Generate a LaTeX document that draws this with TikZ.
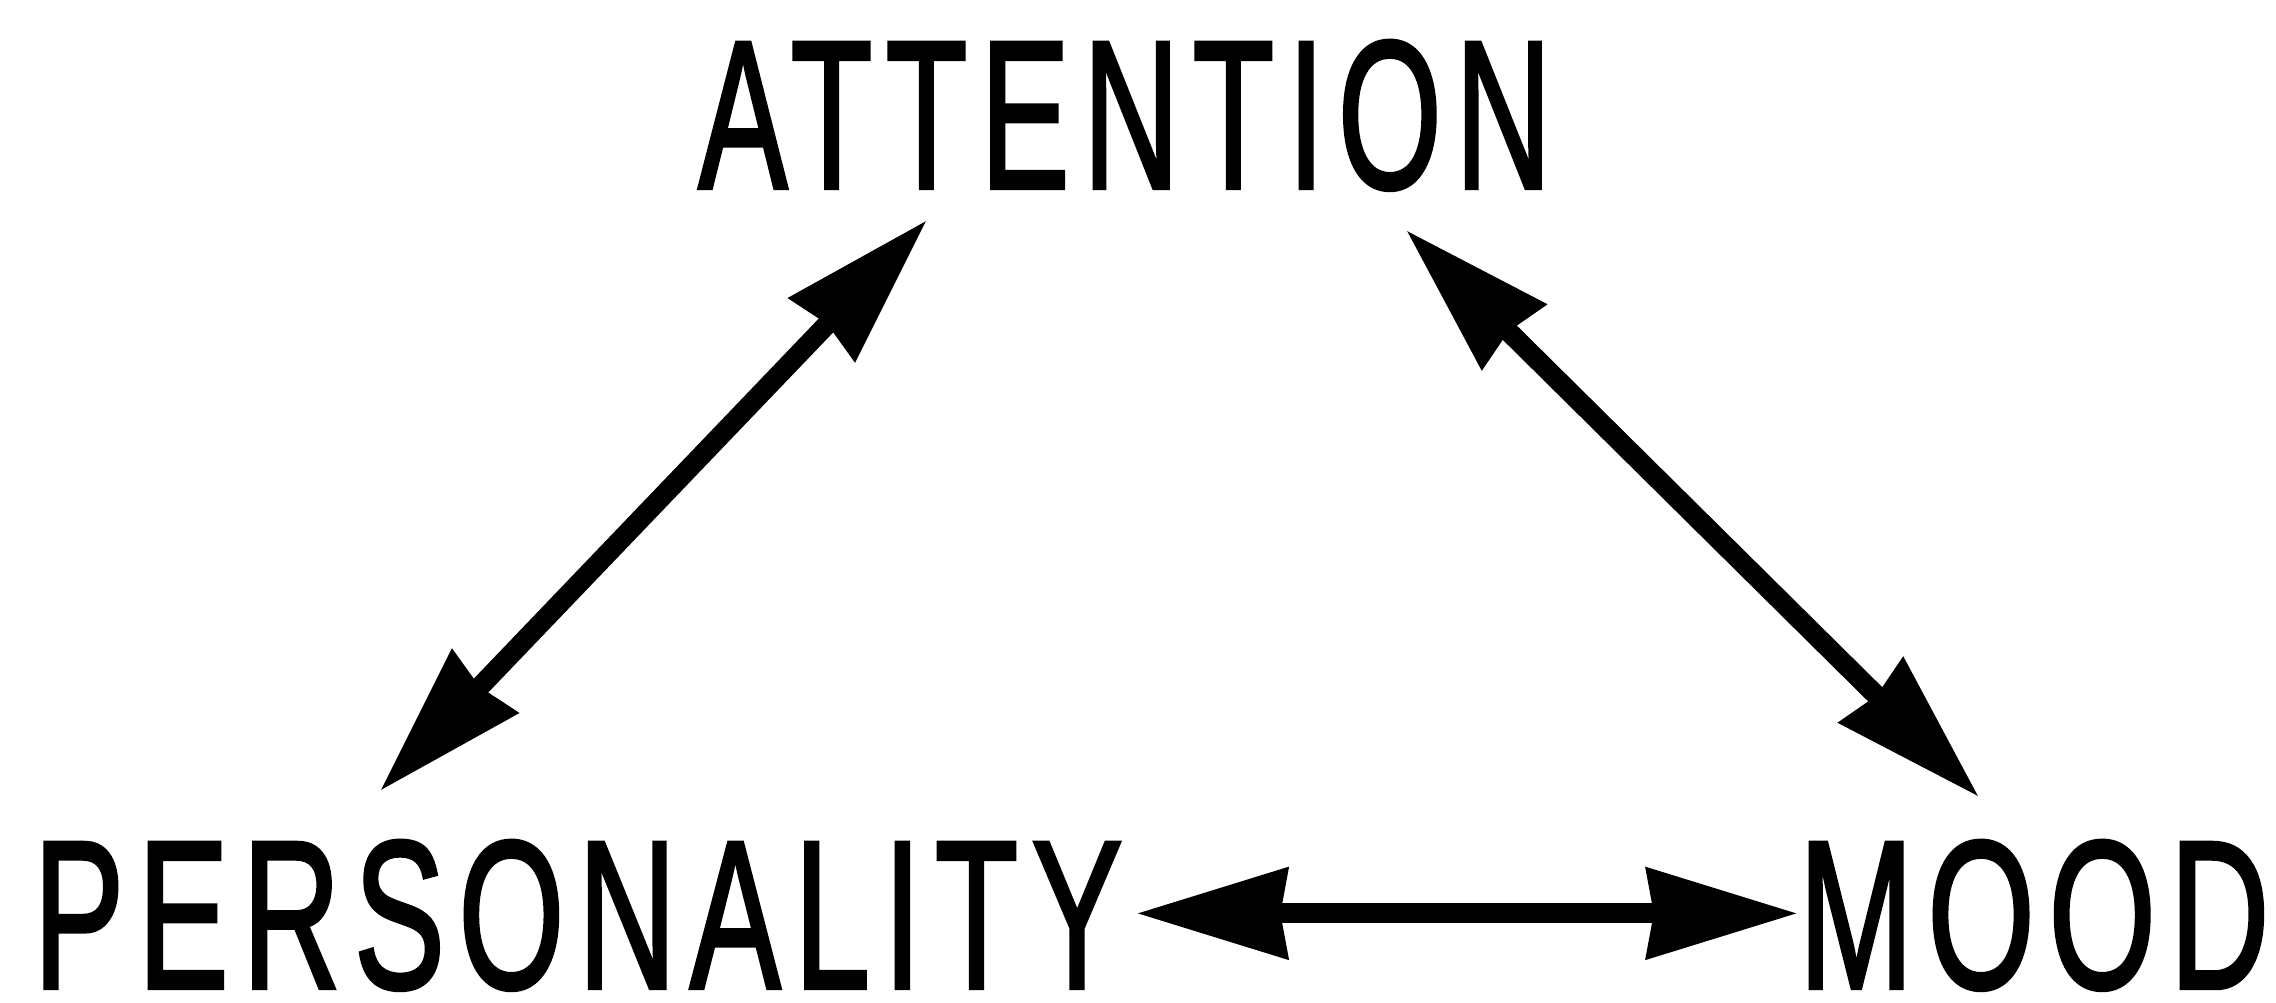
\documentclass[tikz,border=0pt]{standalone}
\usepackage{fontspec}
\usepackage{graphicx}
\usetikzlibrary{arrows.meta,calc}
\newfontfamily\lab{Liberation Sans}[FakeBold=2,LetterSpace=10]
\begin{document}
\begin{tikzpicture}[x=0.01cm,y=-0.01cm,
  lbl/.style={inner sep=0pt, anchor=base, font=\lab\fontsize{60}{60}\selectfont},
  tipx/.tip={Stealth[length=1.5cm,width=0.88cm,inset=0.06cm]},
  dbl/.style={line width=0.2cm, {tipx}-{tipx}}]
\path[use as bounding box] (0,0) rectangle (2276,1002);
\node[lbl] (att) at (1125,188) {\scalebox{0.6325}[1]{ATTENTION}};
\node[lbl] (pers) at (578,988) {\scalebox{0.645}[1]{PERSONALITY}};
\node[lbl] (mood) at (2034,988) {\scalebox{0.654}[1]{MOOD}};
\draw[dbl] ($(att.base)+(-198,32)$) -- ($(pers.base)+(-198,-197)$);
\draw[dbl] ($(att.base)+(281,42)$) -- ($(mood.base)+(-55,-191)$);
\draw[dbl] ($(pers.east)+(13,-2)$) -- ($(mood.west)+(0,-2)$);
\end{tikzpicture}
\end{document}
